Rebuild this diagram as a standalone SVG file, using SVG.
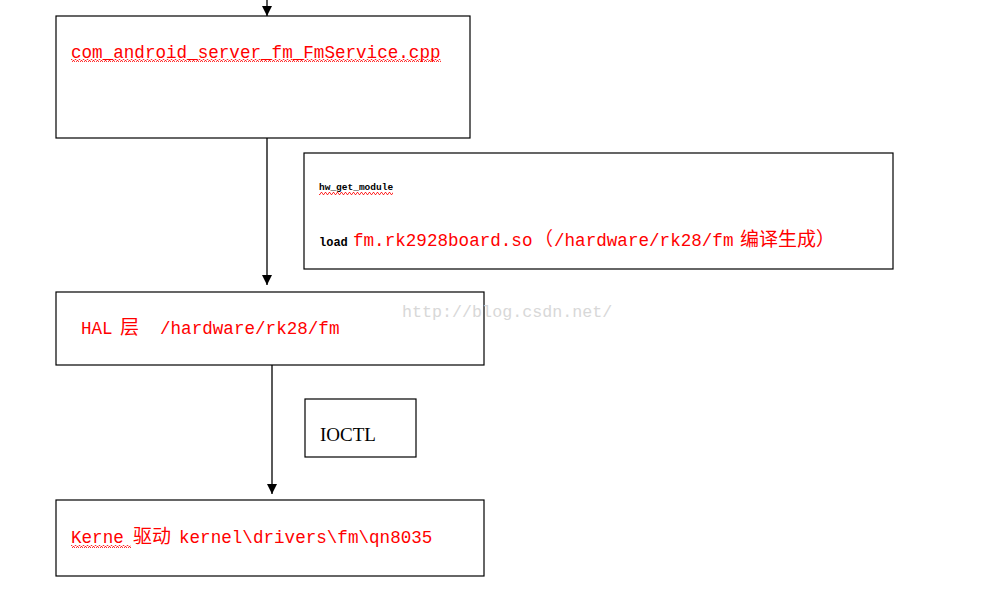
<svg xmlns="http://www.w3.org/2000/svg" width="995" height="601" viewBox="0 0 995 601">
<style>
.box{fill:#fff;stroke:#000;stroke-width:1.2}
.red{fill:#ff0000;font-family:"Liberation Mono","Noto Sans CJK SC",monospace;font-size:17.6px}
.cjk{fill:#ff0000;font-family:"Noto Sans CJK SC",sans-serif;font-size:19px}
.small{fill:#000;font-family:"Liberation Mono",monospace;font-size:9.5px;font-weight:bold}
.conn{stroke:#000;stroke-width:1.3;fill:none}
.wave{fill:url(#wv)}
</style>
<defs>
<marker id="ah" markerWidth="12" markerHeight="12" refX="10" refY="5" orient="auto" markerUnits="userSpaceOnUse">
<path d="M0,0 L10,5 L0,10 Z" fill="#000"/>
</marker>
<pattern id="wv" x="0" y="0" width="4" height="3" patternUnits="userSpaceOnUse">
<path d="M0,2.5 L1,0.5 L2,0.5 L3,2.5 L4,2.5" stroke="#ff0000" stroke-width="0.8" fill="none"/>
</pattern>
</defs>
<rect width="995" height="601" fill="#fff"/>
<g id="connectors">
<line class="conn" x1="267" y1="0" x2="267" y2="16" marker-end="url(#ah)"/>
<line class="conn" x1="267" y1="138" x2="267" y2="285" marker-end="url(#ah)"/>
<line class="conn" x1="272" y1="365" x2="272" y2="494" marker-end="url(#ah)"/>
</g>
<g id="node-fmservice">
<rect class="box" x="56" y="16" width="414" height="122"/>
<text class="red" x="71" y="58">com_android_server_fm_FmService.cpp</text>
<rect class="wave" x="71" y="59" width="370" height="3"/>
</g>
<g id="node-hwgetmodule">
<rect class="box" x="304" y="153" width="589" height="116"/>
<text class="small" x="319" y="190">hw_get_module</text>
<rect class="wave" x="319" y="192" width="74" height="3"/>
<text class="small" x="319" y="246" style="font-size:12px">load</text>
<text class="red" x="353" y="246">fm.rk2928board.so</text>
<text class="cjk" x="534" y="246">（</text>
<text class="red" x="554" y="246">/hardware/rk28/fm</text>
<text class="cjk" x="740" y="246">编译生成）</text>
</g>
<g id="node-hal">
<rect class="box" x="56" y="292" width="428" height="73"/>
<text class="red" x="81" y="334">HAL</text>
<text class="cjk" x="120" y="334">层</text>
<text class="red" x="160" y="334">/hardware/rk28/fm</text>
</g>
<text x="402" y="317" fill="#d8d8d8" font-family="Liberation Mono,monospace" font-size="16.7px">http://blog.csdn.net/</text>
<g id="node-ioctl">
<rect class="box" x="305" y="399" width="111" height="58"/>
<text x="320" y="441" fill="#000" font-family="Liberation Serif,serif" font-size="19px">IOCTL</text>
</g>
<g id="node-kernel">
<rect class="box" x="56" y="500" width="428" height="76"/>
<text class="red" x="71" y="543">Kerne</text>
<rect class="wave" x="71" y="545" width="60" height="3"/>
<text class="cjk" x="133" y="543">驱动</text>
<text class="red" x="179" y="543">kernel\drivers\fm\qn8035</text>
</g>
</svg>
